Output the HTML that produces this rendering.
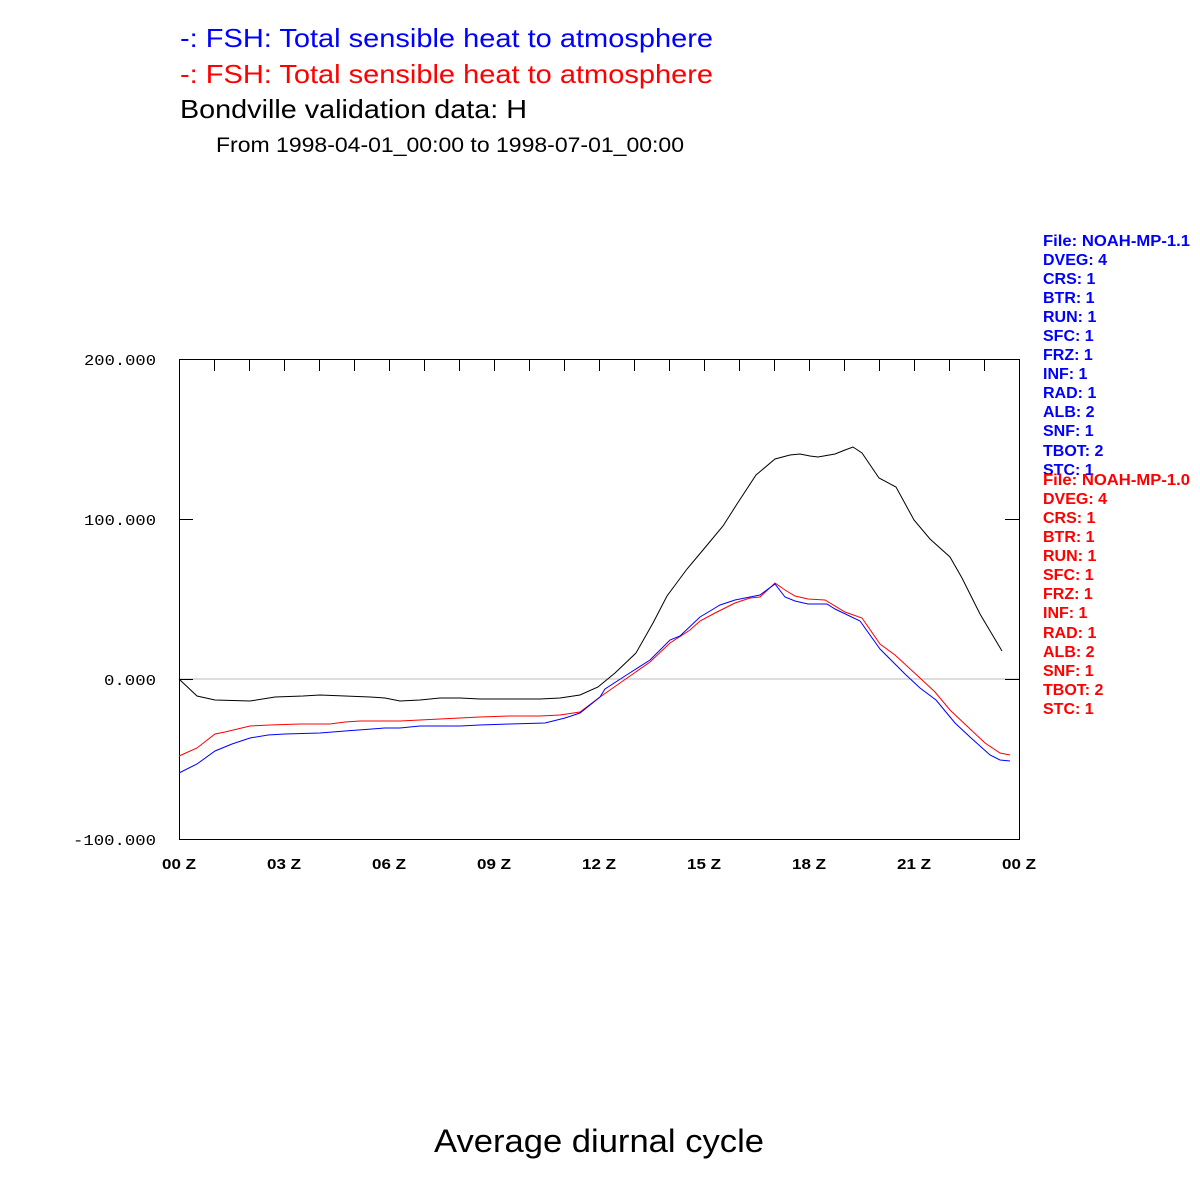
<!DOCTYPE html>
<html><head><style>body{margin:0;background:#fff}svg{display:block}</style></head><body>
<svg width="1200" height="1200" xmlns="http://www.w3.org/2000/svg" font-family="Liberation Sans, sans-serif">
<rect width="1200" height="1200" fill="#fff"/>
<text x="180" y="47" font-size="26" fill="#0000ff" textLength="533" lengthAdjust="spacingAndGlyphs">-: FSH: Total sensible heat to atmosphere</text>
<text x="180" y="83" font-size="26" fill="#ff0000" textLength="533" lengthAdjust="spacingAndGlyphs">-: FSH: Total sensible heat to atmosphere</text>
<text x="180" y="118" font-size="26" fill="#000" textLength="347" lengthAdjust="spacingAndGlyphs">Bondville validation data: H</text>
<text x="216" y="152" font-size="21" fill="#000" textLength="468" lengthAdjust="spacingAndGlyphs">From 1998-04-01_00:00 to 1998-07-01_00:00</text>
<text x="434" y="1152" font-size="32" fill="#000" textLength="330" lengthAdjust="spacingAndGlyphs">Average diurnal cycle</text>

<line x1="179" y1="679" x2="1019" y2="679" stroke="#bbb" stroke-width="1"/>
<rect x="179.5" y="359.5" width="840" height="480" fill="none" stroke="#000" stroke-width="1"/>
<g stroke="#000" stroke-width="1">
<path d="M214.5 359v12M249.5 359v12M284.5 359v12M319.5 359v12M354.5 359v12M389.5 359v12M424.5 359v12M459.5 359v12M494.5 359v12M529.5 359v12M564.5 359v12M599.5 359v12M634.5 359v12M669.5 359v12M704.5 359v12M739.5 359v12M774.5 359v12M809.5 359v12M844.5 359v12M879.5 359v12M914.5 359v12M949.5 359v12M984.5 359v12"/>
<path d="M179 359.5h14M179 519.5h14M179 679.5h14M179 839.5h14M1005 359.5h14M1005 519.5h14M1005 679.5h14M1005 839.5h14"/>
</g>
<g font-family="Liberation Mono, monospace" font-size="15" fill="#000" text-anchor="end">
<text x="156" y="365" textLength="72" lengthAdjust="spacingAndGlyphs">200.000</text>
<text x="156" y="525" textLength="72" lengthAdjust="spacingAndGlyphs">100.000</text>
<text x="156" y="685" textLength="52" lengthAdjust="spacingAndGlyphs">0.000</text>
<text x="156" y="845" textLength="83" lengthAdjust="spacingAndGlyphs">-100.000</text>
</g>
<g font-size="15" font-weight="bold" fill="#000">
<text x="162" y="869" textLength="34" lengthAdjust="spacingAndGlyphs">00 Z</text><text x="267" y="869" textLength="34" lengthAdjust="spacingAndGlyphs">03 Z</text><text x="372" y="869" textLength="34" lengthAdjust="spacingAndGlyphs">06 Z</text><text x="477" y="869" textLength="34" lengthAdjust="spacingAndGlyphs">09 Z</text><text x="582" y="869" textLength="34" lengthAdjust="spacingAndGlyphs">12 Z</text><text x="687" y="869" textLength="34" lengthAdjust="spacingAndGlyphs">15 Z</text><text x="792" y="869" textLength="34" lengthAdjust="spacingAndGlyphs">18 Z</text><text x="897" y="869" textLength="34" lengthAdjust="spacingAndGlyphs">21 Z</text><text x="1002" y="869" textLength="34" lengthAdjust="spacingAndGlyphs">00 Z</text>
</g>
<polyline fill="none" stroke="#000" stroke-width="1" points="179,679 197,696 215,700 250,701 275,697 303,696 320,695 345,696 370,697 385,698 400,701 420,700 440,698 460,698 480,699 510,699 540,699 560,698 580,695 598,687 615,673 636,653 653,623 667,596 687,569 703,550 723,526 737,504 756,475 775,459 790,455 800,454 810,456 818,457 835,454 845,450 853,447 862,453 879,478 896,487 914,520 930,539 950,557 962,578 980,614 1002,651"/>
<polyline fill="none" stroke="#ff0000" stroke-width="1" points="179,756 197,748 215,734 225,732 250,726 270,725 300,724 330,724 345,722 360,721 400,721 420,720 440,719 460,718 480,717 510,716 540,716 560,715 580,712 600,697 620,683 650,662 670,643 690,630 700,621 715,613 735,603 750,598 760,597 775,583 785,590 795,596 808,599 825,600 845,612 862,618 880,644 895,655 920,678 935,692 950,710 968,727 985,743 1000,753 1010,755"/>
<polyline fill="none" stroke="#0000ff" stroke-width="1" points="179,773 197,764 215,751 232,744 250,738 268,735 285,734 320,733 345,731 385,728 400,728 420,726 440,726 460,726 480,725 510,724 545,723 565,718 580,713 600,697 605,689 625,676 650,660 670,640 680,636 700,617 710,611 720,605 735,600 750,597 760,595 775,584 785,597 795,601 808,604 827,604 835,609 860,621 880,649 897,666 905,674 920,688 936,700 955,723 970,737 990,755 1000,760 1010,761"/>
<g font-size="16" font-weight="bold" fill="#0000ff">
<text x="1043" y="246" textLength="147" lengthAdjust="spacingAndGlyphs">File: NOAH-MP-1.1</text><text x="1043" y="265">DVEG: 4</text><text x="1043" y="284">CRS: 1</text><text x="1043" y="303">BTR: 1</text><text x="1043" y="322">RUN: 1</text><text x="1043" y="341">SFC: 1</text><text x="1043" y="360">FRZ: 1</text><text x="1043" y="379">INF: 1</text><text x="1043" y="398">RAD: 1</text><text x="1043" y="417">ALB: 2</text><text x="1043" y="436">SNF: 1</text><text x="1043" y="456">TBOT: 2</text><text x="1043" y="475">STC: 1</text>
</g>
<g font-size="16" font-weight="bold" fill="#ff0000">
<text x="1043" y="485" textLength="147" lengthAdjust="spacingAndGlyphs">File: NOAH-MP-1.0</text><text x="1043" y="504">DVEG: 4</text><text x="1043" y="523">CRS: 1</text><text x="1043" y="542">BTR: 1</text><text x="1043" y="561">RUN: 1</text><text x="1043" y="580">SFC: 1</text><text x="1043" y="599">FRZ: 1</text><text x="1043" y="618">INF: 1</text><text x="1043" y="638">RAD: 1</text><text x="1043" y="657">ALB: 2</text><text x="1043" y="676">SNF: 1</text><text x="1043" y="695">TBOT: 2</text><text x="1043" y="714">STC: 1</text>
</g>
</svg>
</body></html>
